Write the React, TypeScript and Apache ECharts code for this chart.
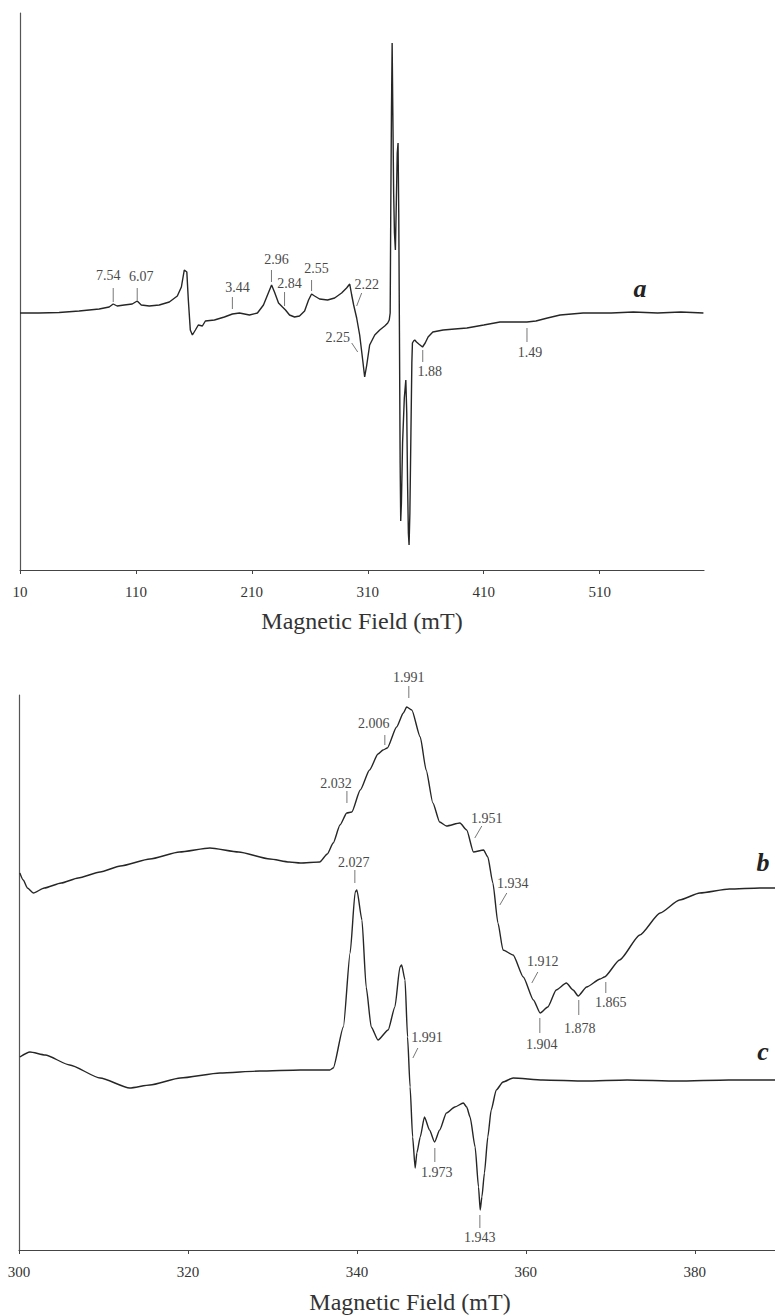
import React, { useEffect, useRef } from "react";
import * as echarts from "echarts";

// ---------- Panel (a): wide-field EPR spectrum ----------
const aField = [10, 26.4, 43.7, 61, 78.3, 86.9, 90.4, 93.8, 99.9, 106.8,
  111.1, 114.6, 121.5, 130.1, 138.8, 145.7, 149.2, 151.7, 153.9, 155.2,
  156.9, 158.7, 161.3, 163.8, 167.3, 169.9, 177.7, 186.3, 193.2, 199.3,
  207.9, 214.8, 220, 223.5, 227, 229.5, 233, 236.4, 239, 242.5,
  246.8, 251.1, 255.5, 258.9, 261.5, 264.1, 268.4, 275.3, 281.4, 287.4,
  291.7, 294.4, 296.1, 297.8, 300.4, 303, 305.6, 307.3, 309.1, 311.6,
  316, 320.3, 324.6, 327.2, 328.5, 329.3, 329.8, 330.4, 331.0, 331.6,
  332.3, 333.0, 333.8, 334.6, 335.4, 336.1, 336.7, 337.3, 337.9, 338.4,
  339.0, 340.0, 341.5, 342.8, 343.6, 344.3, 345.0, 345.6, 346.3, 347.2,
  348.0, 348.5, 349.5, 350.5, 352, 354, 357.2, 359.5, 362, 366.1,
  375, 385, 395.5, 410, 424, 435, 447.3, 455, 465, 475.9,
  495.7, 520, 539, 560, 580, 599.5];
const aIntensity = [0, 0, 0.5, 2, 4, 6, 9, 7, 8, 9,
  12, 8, 7, 8, 11, 17, 26, 43, 41, 13,
  -17, -22, -17, -12, -13, -8, -7, -4, -1, 0,
  -2, 0, 8, 18, 28, 21, 10, 6, 3, -2,
  -4, -3, 2, 13, 19, 17, 14, 13, 15, 20,
  25, 29, 18, 8, -5, -22, -47, -64, -52, -32,
  -22, -17, -13, -10, -7, 0, 100, 200, 270, 200,
  120, 80, 63, 110, 160, 170, 100, -20, -150, -208,
  -190, -130, -85, -67, -100, -170, -220, -232, -200, -120,
  -50, -30, -28, -27, -29, -31, -34, -30, -24, -19,
  -17, -16, -15, -12, -9, -9, -9, -8, -5, -2,
  0, 0, 1, 0, 1, 0];

// ---------- Panel (b) ----------
const bField = [300.1, 300.5, 301.0, 301.7, 303, 305, 307, 309.6, 312, 315.5,
  319, 322.6, 326, 329.7, 332, 333.3, 335.6, 336.5, 337.2, 338.0,
  338.8, 339.4, 340.4, 341.5, 342.5, 343.1, 343.6, 344.7, 345.5, 345.9,
  346.5, 347.5, 348.2, 349.0, 349.8, 350.6, 352.2, 353.0, 353.8, 355.0,
  355.5, 356.1, 356.7, 357.3, 358.5, 359.7, 360.9, 361.7, 362.6, 363.6,
  364.8, 365.6, 366.2, 367.2, 368.8, 369.3, 371.1, 373.5, 375.9, 378.2,
  380.6, 384.1, 387.7, 389.5];
const bIntensity = [377, 370, 362, 357, 362, 367, 372, 378, 384, 391,
  398, 402, 398, 391, 388, 387, 388, 396, 407, 425,
  437, 438, 460, 480, 496, 500, 502, 523, 537, 543,
  540, 513, 480, 447, 428, 424, 427, 420, 398, 400,
  393, 367, 327, 300, 295, 273, 250, 237, 243, 260,
  267, 260, 254, 263, 271, 273, 290, 315, 337, 350,
  357, 361, 362, 362];

// ---------- Panel (c) ----------
const cField = [300.1, 301.3, 303.1, 306, 309.6, 313.1, 315.5, 319.1, 323.8, 328.5,
  333.3, 336.8, 337.2, 338.4, 339.2, 339.8, 340.0, 340.6, 341.1, 341.7,
  342.5, 343.7, 344.5, 345.1, 345.3, 345.7, 346.0, 346.3, 346.6, 346.9,
  347.1, 347.5, 348.0, 348.6, 349.2, 349.8, 350.6, 351.6, 352.6, 353.0,
  353.4, 354.0, 354.4, 354.6, 354.8, 355.1, 355.5, 355.9, 356.5, 357.3,
  358.5, 362, 367, 372, 378, 384, 389.5];
const cIntensity = [193, 198, 195, 185, 172, 162, 165, 172, 177, 179,
  180, 180, 182, 223, 297, 358, 360, 330, 263, 223,
  210, 220, 243, 283, 285, 270, 213, 163, 113, 82,
  97, 113, 133, 120, 108, 120, 137, 143, 147, 143,
  133, 103, 63, 40, 53, 77, 113, 140, 160, 168,
  172, 170, 169, 170, 169, 170, 170];

// ---------- Axis ticks ----------
const topTicks = [10, 110, 210, 310, 410, 510];
const bottomTicks = [300, 320, 340, 360, 380];

// ---------- g-value annotations ----------
const topLabels = ["7.54", "6.07", "3.44", "2.96", "2.84", "2.55", "2.22", "2.25", "1.88", "1.49"];
const topLabelField = [90.4, 111.1, 193.2, 226.9, 238.2, 261.5, 300.4, 301.3, 357.4, 447.3];
const topLabelIntensity = [11, 13, 4, 31, 7, 22, 7, -39, -37, -15];

const bottomLabels = ["2.032", "2.006", "1.991", "1.951", "1.934", "1.912", "1.904", "1.878", "1.865",
  "2.027", "1.991", "1.973", "1.943"];
const bottomLabelField = [338.82, 343.31, 346.15, 353.96, 356.92, 360.71, 361.66, 366.27, 369.47,
  339.76, 346.63, 349.23, 354.56];
const bottomLabelIntensity = [447, 505, 552, 412, 345, 267, 232, 250, 268, 367, 192, 102, 35];

// marker/label pixel offsets (styling)
const topMarkVec = [[0, -14], [0, -12], [0, -12], [0, -12], [0, -14], [0, -11], [5, -13], [-6, -9], [0, 12], [0, 14]];
const topLabelOffset = [[-5, -27], [4, -24], [5, -22], [5, -23], [5, -23], [5, -23], [10, -22], [-20, -15], [7, 21], [3, 24]];
const bottomMarkVec = [[0, -12], [0, -10], [0, -12], [7, -12], [7, -12], [6, -11], [0, 15], [0, 15], [0, 11],
  [0, -13], [5, -10], [0, 14], [0, 13]];
const bottomLabelOffset = [[-11, -20], [-11, -22], [0, -21], [12, -20], [13, -22], [11, -22], [2, 26], [1, 28], [5, 20],
  [-1, -21], [14, -21], [2, 24], [0, 22]];

const SERIF = "Liberation Serif, Times New Roman, serif";

function zip(xs: number[], ys: number[]) {
  return xs.map((x, i) => [x, ys[i]]);
}

function annotRenderer(labels: string[], vecs: number[][], offs: number[][], fontSize: number) {
  return (params: any, api: any) => {
    const i = params.dataIndex;
    const p = api.coord([api.value(0), api.value(1)]);
    const v = vecs[i];
    const o = offs[i];
    return {
      type: "group",
      children: [
        {
          type: "line",
          shape: { x1: p[0], y1: p[1], x2: p[0] + v[0], y2: p[1] + v[1] },
          style: { stroke: "#777", lineWidth: 1 },
        },
        {
          type: "text",
          x: p[0] + o[0],
          y: p[1] + o[1],
          style: {
            text: labels[i],
            fill: "#4a4a4a",
            fontSize,
            fontFamily: SERIF,
            align: "center",
            verticalAlign: "middle",
          },
        },
      ],
    };
  };
}

function xAxisCfg(gridIndex: number, min: number, max: number, interval: number, ticks: number[], nameGap: number, namePad: number[]) {
  return {
    type: "value",
    gridIndex,
    min,
    max,
    interval,
    axisLine: { onZero: false, lineStyle: { color: "#444", width: 1.2 } },
    axisTick: { show: true, length: 4, inside: false, lineStyle: { color: "#444" }, customValues: ticks },
    axisLabel: {
      color: "#333",
      fontSize: 15,
      fontFamily: SERIF,
      margin: 14,
      customValues: ticks,
    },
    splitLine: { show: false },
    name: "Magnetic Field (mT)",
    nameLocation: "middle",
    nameGap,
    nameTextStyle: { fontSize: 24, fontFamily: SERIF, color: "#333", padding: namePad },
  };
}

function yAxisCfg(gridIndex: number, min: number, max: number) {
  return {
    type: "value",
    gridIndex,
    min,
    max,
    axisLine: { show: true, onZero: false, lineStyle: { color: "#555", width: 1.2 } },
    axisTick: { show: false },
    axisLabel: { show: false },
    splitLine: { show: false },
  };
}

const lineStyle = { color: "#262626", width: 1.4 };

export default function App() {
  const ref = useRef<HTMLDivElement>(null);
  useEffect(() => {
    if (!ref.current) return;
    const chart = echarts.init(ref.current, undefined, { renderer: "svg" });
    chart.setOption({
      animation: false,
      backgroundColor: "#ffffff",
      grid: [
        { left: 20, top: 13, width: 684, height: 557 },
        { left: 19, top: 695, width: 756, height: 555 },
      ],
      xAxis: [
        xAxisCfg(0, 10, 600, 100, topTicks, 39, [0, 0, 0, 0]),
        xAxisCfg(1, 300, 389.5, 20, bottomTicks, 40, [0, 0, 0, 26]),
      ],
      yAxis: [yAxisCfg(0, -257, 300), yAxisCfg(1, 0, 555)],
      series: [
        {
          name: "a",
          type: "line",
          xAxisIndex: 0,
          yAxisIndex: 0,
          data: zip(aField, aIntensity),
          showSymbol: false,
          lineStyle,
        },
        {
          name: "b",
          type: "line",
          xAxisIndex: 1,
          yAxisIndex: 1,
          data: zip(bField, bIntensity),
          showSymbol: false,
          smooth: 0.2,
          smoothMonotone: "x",
          lineStyle,
        },
        {
          name: "c",
          type: "line",
          xAxisIndex: 1,
          yAxisIndex: 1,
          data: zip(cField, cIntensity),
          showSymbol: false,
          smooth: 0.2,
          smoothMonotone: "x",
          lineStyle,
        },
        {
          type: "custom",
          xAxisIndex: 0,
          yAxisIndex: 0,
          clip: false,
          data: zip(topLabelField, topLabelIntensity),
          renderItem: annotRenderer(topLabels, topMarkVec, topLabelOffset, 14),
        },
        {
          type: "custom",
          xAxisIndex: 1,
          yAxisIndex: 1,
          clip: false,
          data: zip(bottomLabelField, bottomLabelIntensity),
          renderItem: annotRenderer(bottomLabels, bottomMarkVec, bottomLabelOffset, 14),
        },
      ],
      graphic: [
        { type: "text", x: 640, y: 288, style: { text: "a", fontSize: 26, fontWeight: "bold", fontStyle: "italic", fontFamily: SERIF, fill: "#222", align: "center", verticalAlign: "middle" } },
        { type: "text", x: 763, y: 862, style: { text: "b", fontSize: 26, fontWeight: "bold", fontStyle: "italic", fontFamily: SERIF, fill: "#222", align: "center", verticalAlign: "middle" } },
        { type: "text", x: 763, y: 1051, style: { text: "c", fontSize: 26, fontWeight: "bold", fontStyle: "italic", fontFamily: SERIF, fill: "#222", align: "center", verticalAlign: "middle" } },
      ],
    });
    return () => chart.dispose();
  }, []);
  return (
    <div
      ref={ref}
      style={{ position: "absolute", left: 0, top: 0, width: 775, height: 1316, background: "#fff" }}
    />
  );
}
